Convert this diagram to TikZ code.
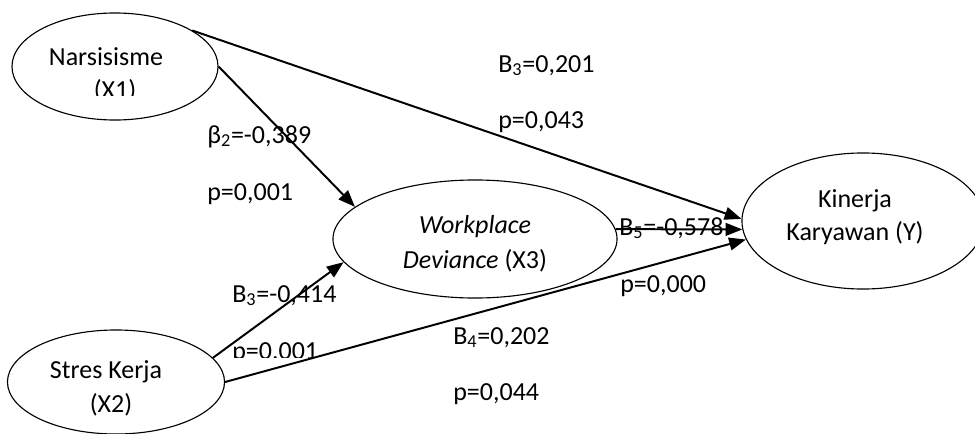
\documentclass[tikz,border=0pt]{standalone}
\usepackage{fontspec}
\setmainfont{Carlito}
\usetikzlibrary{shapes.geometric,arrows.meta}

\tikzset{
  construct/.style={draw, ellipse, line width=0.8pt, inner sep=0pt},
  vartext/.style={anchor=base, inner sep=0pt},
  coef/.style={anchor=base west, inner sep=0pt},
  effect/.style={-{Triangle[length=0.42cm,width=0.32cm]}, line width=1.4pt}
}

\begin{document}
\begin{tikzpicture}[x=0.025cm, y=-0.025cm, font=\fontsize{18.5}{24}\selectfont]
  \useasboundingbox (0,0) rectangle (975,434);
  % Constructs
  \node[construct, minimum width=5.15cm, minimum height=2.675cm] (X1) at (115,66.5) {};
  \node[construct, minimum width=7.1cm, minimum height=2.95cm] (X3) at (475,239) {};
  \node[construct, minimum width=6.05cm, minimum height=3.4cm] (Y) at (863,221) {};
  \node[construct, minimum width=5.425cm, minimum height=2.6cm] (X2) at (116,382) {};
  % Construct names
  \node[vartext] (nameX1) at (106,65) {Narsisisme};
  \begin{scope}
    \clip (0,0) rectangle (975,95);
    \node[vartext] (codeX1) at (115,98) {(X1)};
  \end{scope}
  \node[vartext] (nameX3) at (475,233) {\textit{Workplace}};
  \node[vartext] (codeX3) at (475,268) {\textit{Deviance} (X3)};
  \node[vartext] (nameY) at (855,207) {Kinerja};
  \node[vartext] (codeY) at (855,240) {Karyawan (Y)};
  \node[vartext] (nameX2) at (106,378) {Stres Kerja};
  \node[vartext] (codeX2) at (111,412) {(X2)};
  % Paths
  \draw[effect] (X1.25) -- (Y.179);
  \draw[effect] (X1.0) -- (X3.165);
  \draw[effect] (X2.14) -- (X3.190);
  \draw[effect] (X2.0) -- (Y.189);
  \draw[effect] (X3.4) -- (Y.184);
  % Coefficients
  \node[coef] (bX1Y) at (498,72) {B\textsubscript{3}=0,201};
  \node[coef] (pX1Y) at (498,128) {p=0,043};
  \node[coef] (bX1X3) at (207,143) {β\textsubscript{2}=-0,389};
  \node[coef] (pX1X3) at (207,200) {p=0,001};
  \node[coef] (bX2X3) at (232,302) {B\textsubscript{3}=-0,414};
  \begin{scope}
    \clip (0,0) rectangle (975,357);
    \node[coef] (pX2X3) at (232,359.5) {p=0,001};
  \end{scope}
  \node[coef] (bX2Y) at (453,344) {B\textsubscript{4}=0,202};
  \node[coef] (pX2Y) at (453,400) {p=0,044};
  \node[coef] (bX3Y) at (619,235) {B\textsubscript{5}=-0,578};
  \node[coef] (pX3Y) at (620,292) {p=0,000};
\end{tikzpicture}
\end{document}
